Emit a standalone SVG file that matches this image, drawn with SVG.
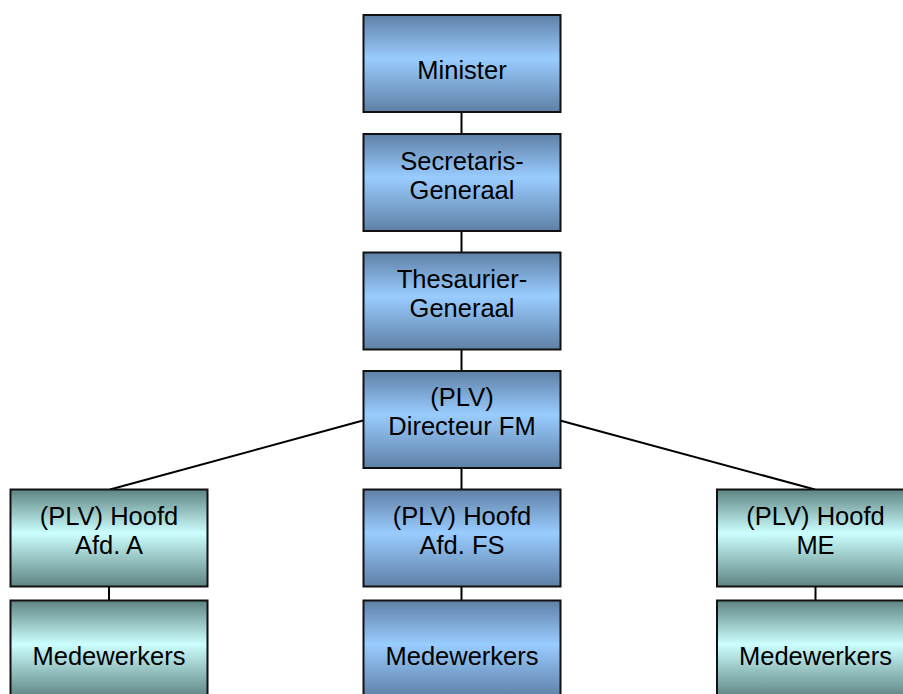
<svg xmlns="http://www.w3.org/2000/svg" width="903" height="694" viewBox="0 0 903 694">
<defs>
<linearGradient id="gBlue" x1="0" y1="0" x2="0" y2="1">
<stop offset="0" stop-color="#5f80a6"/>
<stop offset="0.45" stop-color="#99ccff"/>
<stop offset="1" stop-color="#5f80a6"/>
</linearGradient>
<linearGradient id="gTeal" x1="0" y1="0" x2="0" y2="1">
<stop offset="0" stop-color="#5e8482"/>
<stop offset="0.45" stop-color="#ccffff"/>
<stop offset="1" stop-color="#5e8482"/>
</linearGradient>
<style>
.b{fill:url(#gBlue);stroke:#111;stroke-width:2}
.t{fill:url(#gTeal);stroke:#111;stroke-width:2}
text{font-family:"Liberation Sans",Arial,sans-serif;font-size:25.5px;fill:#000;text-anchor:middle}
.c line{stroke:#000;stroke-width:2}
</style>
</defs>
<rect width="903" height="694" fill="#fff"/>
<g class="c" id="connectors">
<line x1="461.5" y1="112" x2="461.5" y2="134"/>
<line x1="461.5" y1="231" x2="461.5" y2="252.5"/>
<line x1="461.5" y1="349.5" x2="461.5" y2="371"/>
<line x1="461.5" y1="468" x2="461.5" y2="489.5"/>
<line x1="461.5" y1="586.5" x2="461.5" y2="600.5"/>
<line x1="363" y1="420.5" x2="110" y2="489.5"/>
<line x1="560" y1="420.5" x2="815" y2="489.5"/>
<line x1="109" y1="586.5" x2="109" y2="600.5"/>
<line x1="815.5" y1="586.5" x2="815.5" y2="600.5"/>
</g>
<g id="minister"><rect class="b" x="363.5" y="15" width="197" height="97"/><text x="462" y="79">Minister</text></g>
<g id="sg"><rect class="b" x="363.5" y="134" width="197" height="97"/><text x="462" y="170">Secretaris-</text><text x="462" y="199">Generaal</text></g>
<g id="tg"><rect class="b" x="363.5" y="252.5" width="197" height="97"/><text x="462" y="288">Thesaurier-</text><text x="462" y="317">Generaal</text></g>
<g id="dfm"><rect class="b" x="363.5" y="371" width="197" height="97"/><text x="462" y="406">(PLV)</text><text x="462" y="435">Directeur FM</text></g>
<g id="hoofdA"><rect class="t" x="10.5" y="489.5" width="197" height="97"/><text x="109" y="525">(PLV) Hoofd</text><text x="109" y="554">Afd. A</text></g>
<g id="hoofdFS"><rect class="b" x="363.5" y="489.5" width="197" height="97"/><text x="462" y="525">(PLV) Hoofd</text><text x="462" y="554">Afd. FS</text></g>
<g id="hoofdME"><rect class="t" x="717" y="489.5" width="197" height="97"/><text x="815.5" y="525">(PLV) Hoofd</text><text x="815.5" y="554">ME</text></g>
<g id="medA"><rect class="t" x="10.5" y="600.5" width="197" height="97"/><text x="109" y="665">Medewerkers</text></g>
<g id="medFS"><rect class="b" x="363.5" y="600.5" width="197" height="97"/><text x="462" y="665">Medewerkers</text></g>
<g id="medME"><rect class="t" x="717" y="600.5" width="197" height="97"/><text x="815.5" y="665">Medewerkers</text></g>
</svg>
